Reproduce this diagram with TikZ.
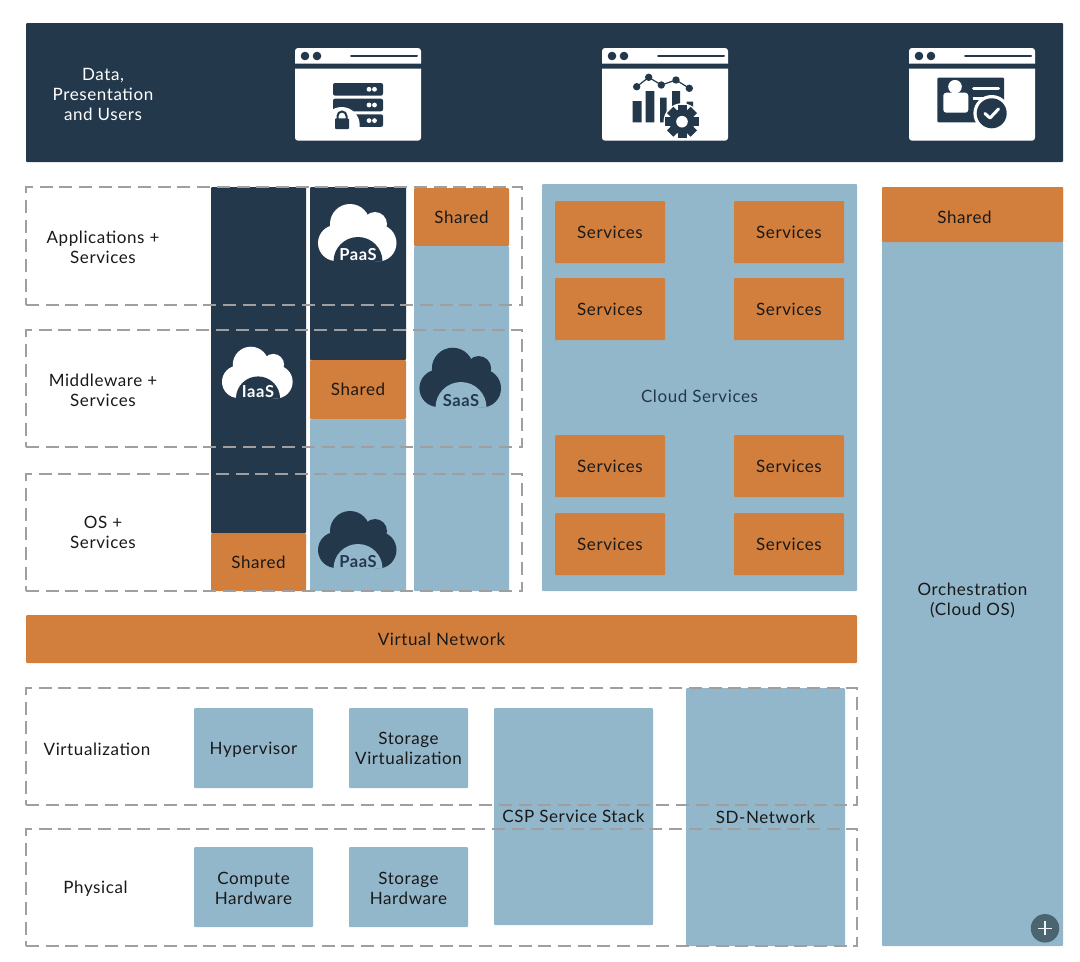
\documentclass[tikz,border=0pt]{standalone}
\usepackage{fontspec}
\setmainfont{Lato}[LetterSpace=3.5]
\definecolor{navy}{HTML}{24384C}
\definecolor{rust}{HTML}{D27F3D}
\definecolor{steel}{HTML}{92B6CA}
\definecolor{dashgray}{HTML}{A09E9E}
\definecolor{plusgray}{HTML}{4A6470}
\tikzstyle{boxbase} = [rectangle, anchor=north west, inner sep=0pt, outer sep=0pt, rounded corners=1pt, align=center, text=black!90, font=\fontsize{17}{20}\selectfont]
\tikzstyle{navybox} = [boxbase, fill=navy]
\tikzstyle{rustbox} = [boxbase, fill=rust]
\tikzstyle{steelbox} = [boxbase, fill=steel]
\tikzstyle{svcbox} = [rustbox, minimum width=110pt, minimum height=62pt]
\tikzstyle{colbox} = [minimum width=95pt]
\tikzstyle{infrabox} = [steelbox, minimum width=119pt, minimum height=80pt]
\tikzstyle{dashbox} = [rectangle, anchor=north west, draw=dashgray, line width=2.6pt, dash pattern=on 13pt off 6.7pt, inner sep=0pt, outer sep=0pt]
\tikzstyle{textlabel} = [align=center, inner sep=0pt, text=black!90, font=\fontsize{17}{20}\selectfont]
\tikzstyle{cloudtext} = [inner sep=0pt, font=\fontsize{16.5}{16.5}\bfseries\selectfont]
\tikzstyle{iconfill} = [fill=navy]

% browser window at #1 (left edge), with the navy title marks
\newcommand{\browser}[1]{
  \begin{scope}[xshift=#1pt]
    \fill [white] (0,63.5) [rounded corners=3pt] -- (0,48) -- (126,48) [sharp corners] -- (126,63.5) -- cycle;
    \fill [white] (0,68.7) [rounded corners=3pt] -- (0,140.7) -- (126,140.7) [sharp corners] -- (126,68.7) -- cycle;
    \fill [navy] (10,56) circle (4.3) (22,56) circle (4.3);
    \draw [navy, line width=2pt, line cap=round] (56,56) -- (122,56);
  \end{scope}
}
% cloud with its bottom centre at (#1,#2), scale #3, colours #4 and #5
\newcommand{\cloudmark}[7]{
  \begin{scope}[shift={(#1,#2)}, scale=#3]
    \fill [#4] (-8,-37) circle (20) (17,-37) circle (12) (-22,-18) circle (18) (20,-18) circle (18.5);
    \fill [#4] (-22,-36) rectangle (20,-18);
    \fill [#4] (-24.5,-18) rectangle (24.5,0);
    \fill [#5] (-24.5,0.5) arc [start angle=180, end angle=360, radius=24.5] -- cycle;
  \end{scope}
  \node [cloudtext, text=#4] (#6) at (#1,#2-6) {#7};
}

\begin{document}
\begin{tikzpicture}[x=1pt, y=-1pt]
    \useasboundingbox (0,0) rectangle (1080,962);

    % Place nodes
    \node [navybox, minimum width=1037pt, minimum height=139pt] (header) at (26,23) {};
    \node [textlabel, text=white] (datalabel) at (103,94) {Data,\\Presentation\\and Users};

    \node [navybox, colbox, minimum height=346pt] (iaasbody) at (211,187) {};
    \node [rustbox, colbox, minimum height=58pt] (iaasshared) at (211,533) {Shared};
    \node [navybox, colbox, minimum width=96pt, minimum height=173pt] (paasbody) at (310,187) {};
    \node [rustbox, colbox, minimum width=96pt, minimum height=59pt] (paasshared) at (310,360) {Shared};
    \node [steelbox, colbox, minimum width=96pt, minimum height=172pt] (paaslow) at (310,419) {};
    \node [rustbox, colbox, minimum height=58pt] (saasshared) at (414,188) {Shared};
    \node [steelbox, colbox, minimum height=345pt] (saasbody) at (414,246) {};

    \node [steelbox, minimum width=315pt, minimum height=407pt] (cloudpanel) at (542,184) {};
    \node [textlabel, text=navy] (cloudlabel) at (699.5,396.5) {Cloud Services};
    \foreach \col/\xpos in {a/555, b/734}
      \foreach \row/\ypos in {1/201, 2/278, 3/435, 4/513}
        \node [svcbox] (svc\col\row) at (\xpos,\ypos) {Services};

    \node [steelbox, minimum width=181pt, minimum height=759pt] (orchbody) at (882,187) {};
    \node [rustbox, minimum width=181pt, minimum height=55pt] (orchshared) at (882,187) {};
    \node [textlabel] (orchsharedlabel) at (964.5,217.5) {Shared};
    \node [textlabel] (orchlabel) at (972.5,600) {Orchestration\\(Cloud OS)};

    \node [rustbox, minimum width=831pt, minimum height=48pt] (vnet) at (26,615) {Virtual Network};

    \node [infrabox, text depth=0pt] (hyper) at (194,708) {Hypervisor};
    \node [infrabox] (storvirt) at (349,708) {Storage\\Virtualization};
    \node [infrabox, text height=35pt] (compute) at (194,847) {Compute\\Hardware};
    \node [infrabox, text height=35pt] (storhw) at (349,847) {Storage\\Hardware};
    \node [steelbox, minimum width=159pt, minimum height=217pt, text depth=0pt] (cspstack) at (494,708) {CSP Service Stack};
    \node [steelbox, minimum width=159pt, minimum height=258pt] (sdnet) at (686,688) {SD-Network};

    % Dashed layers
    \node [dashbox, minimum width=496pt, minimum height=118pt] (applayer) at (26,187) {};
    \node [dashbox, minimum width=496pt, minimum height=117pt] (midlayer) at (26,330) {};
    \node [dashbox, minimum width=496pt, minimum height=117pt] (oslayer) at (26,474) {};
    \node [dashbox, minimum width=831pt, minimum height=117pt] (virtlayer) at (26,688) {};
    \node [dashbox, minimum width=831pt, minimum height=117pt] (physlayer) at (26,829) {};

    \node [textlabel] (applabel) at (103,247) {Applications +\\Services};
    \node [textlabel] (midlabel) at (103,390) {Middleware +\\Services};
    \node [textlabel] (oslabel) at (103,532) {OS +\\Services};
    \node [textlabel] (virtlabel) at (97,749) {Virtualization};
    \node [textlabel] (physlabel) at (95.5,889) {Physical};

    % Clouds
    \cloudmark{358}{261}{1}{white}{navy}{paastop}{PaaS}
    \cloudmark{258}{398}{0.9}{white}{navy}{iaaslabel}{IaaS}
    \cloudmark{461}{407}{1.04}{navy}{steel}{saaslabel}{SaaS}
    \cloudmark{358}{568}{1}{navy}{steel}{paasbottom}{PaaS}

    % Window icons
    \browser{295}
    \browser{602}
    \browser{909}

    % Server and lock
    \foreach \ypos in {83, 98.7, 114.3} {
      \fill [iconfill, rounded corners=2pt] (333,\ypos) rectangle (383,\ypos+12.6);
      \fill [white] (369,\ypos+6.3) circle (2.4) (374.5,\ypos+6.3) circle (2.4);
    }
    \begin{scope}
      \clip (330,100) rectangle (385,129);
      \fill [white] (341.7,125) circle (18);
    \end{scope}
    \fill [iconfill, rounded corners=1pt] (335,118.3) rectangle (349,129);
    \draw [navy, line width=2pt] (337.5,119) -- (337.5,116) arc [start angle=180, end angle=360, radius=4.5] -- (346.5,119);

    % Chart and gear
    \fill [iconfill] (632.7,101) rectangle (641.7,122.3) (645.7,91) rectangle (654.3,122.3);
    \fill [iconfill] (660,97.7) rectangle (666.7,122.3) (672,91) rectangle (680,110) (686.7,101.5) rectangle (693,110);
    \draw [navy, line width=1.2pt] (636.7,86.7) -- (648.7,77.3) -- (661.3,85) -- (676,80) -- (689.3,88.3);
    \foreach \xpos/\ypos in {636.7/86.7, 648.7/77.3, 661.3/85, 676/80, 689.3/88.3}
      \fill [iconfill] (\xpos,\ypos) circle (3.7);
    \fill [white] (682,121.7) circle (18.5);
    \fill [iconfill] (682,121.7) circle (12.5);
    \foreach \ang in {0,45,...,315}
      \fill [iconfill, rotate around={\ang:(682,121.7)}] (677.5,105) rectangle (686.5,112);
    \fill [white] (682,121.7) circle (5.8);

    % Identity card
    \fill [iconfill, rounded corners=1pt] (937.3,77.7) rectangle (1004,122.3);
    \fill [white] (955,86.7) circle (6.8);
    \fill [white, rounded corners=3pt] (943.3,112.7) -- (943.3,92.7) -- (968.3,92.7) -- (968.3,112.7) -- cycle;
    \draw [white, line width=3pt, line cap=round] (973.7,88.3) -- (998.5,88.3);
    \draw [white, line width=3pt] (972.7,98) -- (988,98);
    \fill [white] (991.7,113.3) circle (18.3);
    \fill [iconfill] (991.7,113.3) circle (15);
    \draw [white, line width=3pt, line cap=round, line join=round] (985,113.5) -- (990,118) -- (998.5,109);

    % Plus button
    \node [circle, fill=plusgray, minimum size=28.5pt, inner sep=0pt] (plusbtn) at (1045,928.3) {};
    \draw [white!85!steel, line width=1.2pt] ([xshift=-7pt]plusbtn.center) -- ([xshift=7pt]plusbtn.center);
    \draw [white!85!steel, line width=1.2pt] ([yshift=-7pt]plusbtn.center) -- ([yshift=7pt]plusbtn.center);
\end{tikzpicture}
\end{document}
